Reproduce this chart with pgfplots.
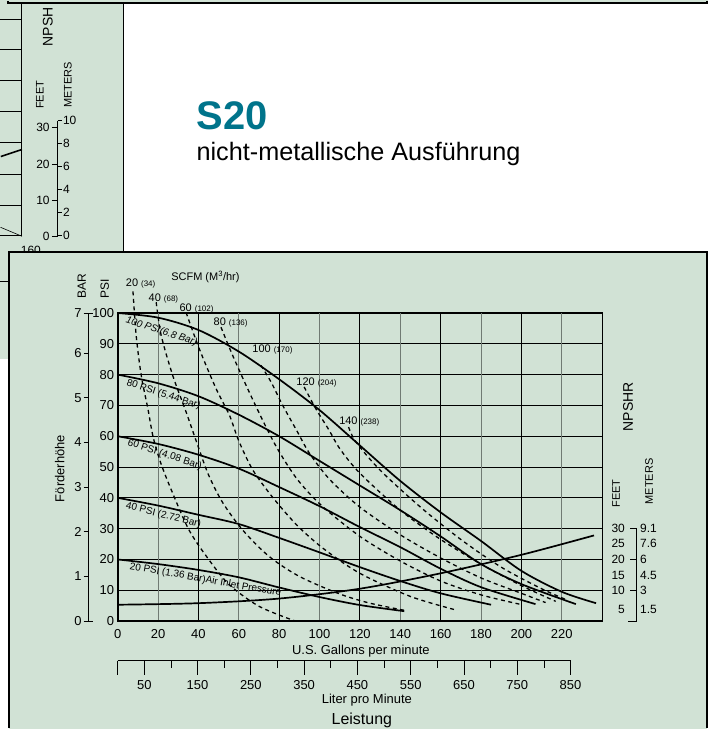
\documentclass[border=0pt]{standalone}
\usepackage{fontspec}
\setmainfont{Liberation Sans}
\usepackage{pgfplots}
\pgfplotsset{compat=1.18}
\definecolor{panel}{RGB}{209,226,213}
\definecolor{sblue}{RGB}{0,116,139}
\definecolor{gridgray}{RGB}{112,122,115}
\newcommand{\fs}[1]{\fontsize{#1}{#1}\selectfont}

\begin{document}
\begin{tikzpicture}[x=1pt,y=1pt]
\fill[white] (0,0) rectangle (711,731);

% previous chart, cut off at the top left
\fill[panel] (0,731) rectangle (124,478);
\fill[panel] (0,478) rectangle (9,371);
\draw[line width=1.6pt] (124,730) -- (124,478);
\draw[line width=0.9pt] (22,730) -- (22,495) -- (0.5,495);
\foreach \y in {712,681,650,619,588,556,525} \draw[line width=0.8pt] (0.5,\y) -- (22,\y);
\draw[line width=1.6pt] (0.8,574) -- (22,581);
\draw[line width=0.6pt] (0.5,503) -- (22,494);
\node[rotate=90, font=\fs{14}] at (48,704) {NPSH};
\node[rotate=90, font=\fs{11}] at (40,636) {FEET};
\node[rotate=90, font=\fs{11}] at (68,646) {METERS};
\draw[line width=0.7pt] (58,610) -- (58,494);
\foreach \y/\t in {603/30,566/20,530/10,494/0} {\draw[line width=0.7pt] (52,\y) -- (58,\y); \node[anchor=east, font=\fs{12}, inner sep=1pt] at (51,\y) {\t};}
\foreach \y/\t in {610/10,587/8,564/6,541/4,518/2,495/0} {\draw[line width=0.7pt] (58,\y) -- (62,\y); \node[anchor=west, font=\fs{12}, inner sep=1pt] at (62,\y) {\t};}
\node[font=\fs{12}] at (31,480) {160};
\draw[line width=0.7pt] (0.5,449) -- (8,449);
% top strip
\fill[panel] (8,728) rectangle (710,731);
\draw[line width=1.8pt] (8,730) -- (8,728) -- (709.5,728) -- (709.5,730);

% title
\node[anchor=base west, inner sep=0, font=\fs{40}\bfseries, text=sblue] at (197,601) {S20};
\node[anchor=base west, inner sep=0, font=\fs{25.3}] at (197,570) {nicht-metallische Ausführung};

% chart panel
\fill[panel] (9,478) rectangle (709,0);
\draw[line width=2pt] (9,0.5) -- (9,478) -- (709,478) -- (709,0.5);

\begin{axis}[
  at={(118pt,108pt)}, anchor=south west,
  width=486pt, height=309pt, scale only axis,
  xmin=0, xmax=240, ymin=0, ymax=100,
  xtick={0,20,...,220}, ytick={0,10,...,100},
  major tick length=0pt,
  grid=major, major grid style={black, line width=0.8pt},
  axis line style={black, line width=1.2pt},
  tick label style={font=\fs{13}},
  /pgf/number format/assume math mode=true,
  xticklabel style={yshift=-5pt},
  clip=false,
]
\pgfplotsinvokeforeach{20,60,100,140,180,220}{
  \draw[gridgray, line width=0.8pt] (axis cs:#1,0) -- (axis cs:#1,100);
}
\draw[line width=2.2pt] (axis cs:0,0) -- (axis cs:240,0);
\draw[line width=2pt] (axis cs:0,0) -- (axis cs:0,100);

% air inlet pressure (head) curves
\addplot[black, line width=1.7pt, smooth] coordinates {(0,100) (20,98.5) (40,94.5) (60,87.5) (80,78.5) (100,68.5) (120,57) (140,45.5) (160,35.3) (180,26) (200,16.3) (220,9.5) (237,5.8)};
\addplot[black, line width=1.7pt, smooth] coordinates {(0,80) (20,77.2) (40,73) (60,67) (80,60) (100,52) (120,44) (140,36) (160,27.5) (180,18.5) (200,12) (227,5.5)};
\addplot[black, line width=1.7pt, smooth] coordinates {(0,60) (20,57.5) (40,54) (60,49.5) (80,43.5) (100,37.3) (120,30.5) (140,24) (160,17) (180,11) (207,5.5)};
\addplot[black, line width=1.7pt, smooth] coordinates {(0,40) (20,37.5) (40,34.5) (60,31.5) (80,27) (100,22.3) (120,17.5) (140,13) (160,9) (185,5.3)};
\addplot[black, line width=1.7pt, smooth] coordinates {(0,20) (20,18.5) (40,16.6) (60,14.2) (80,10.9) (100,7.8) (120,5.2) (142,3.2)};

% NPSHR
\addplot[black, line width=1.7pt, smooth] coordinates {(0,5.3) (40,5.8) (80,7.3) (120,10.5) (160,15.5) (200,21.5) (236,27.8)};

% air consumption (SCFM) curves
\addplot[black, line width=1.3pt, dash pattern=on 4pt off 3.5pt, smooth] coordinates {(7.6,107) (9.2,92.6) (11.7,79.7) (15,68.9) (17.5,60) (21,52) (26,43.5) (35,30) (44,21) (55,12) (70,4.8) (88,0)};
\addplot[black, line width=1.3pt, dash pattern=on 4pt off 3.5pt, smooth] coordinates {(19.1,103.5) (21.6,92.7) (27.3,79.7) (33.9,67.9) (39.7,57) (45,47.5) (52,38.5) (62,29.5) (75,21) (90,14.5) (110,8.8) (125,5.8) (142,3.5)};
\addplot[black, line width=1.3pt, dash pattern=on 4pt off 3.5pt, smooth] coordinates {(33.9,100.2) (40.5,88.3) (48.8,75.4) (55.4,66.8) (60,58.5) (67,49) (77,40) (89,31) (102,23.5) (120,15.5) (145,8) (167,3.7)};
\addplot[black, line width=1.3pt, dash pattern=on 4pt off 3.5pt, smooth] coordinates {(51.2,95.4) (57,86.2) (65.2,74.3) (73.5,63) (80,55) (89,46) (101,37.5) (120,27.5) (140,19.5) (160,13) (180,8.5) (199,5.5)};
\addplot[black, line width=1.3pt, dash pattern=on 4pt off 3.5pt, smooth] coordinates {(71,83) (76,77.6) (81.8,70) (89,61.5) (95,54.5) (105,46) (120,37) (140,28) (160,20.5) (180,14) (200,9) (212,6)};
\addplot[black, line width=1.3pt, dash pattern=on 4pt off 3.5pt, smooth] coordinates {(92.4,76) (98.2,68.9) (104.8,61.9) (110,56) (120,48) (140,36) (160,26.5) (180,18.5) (200,11.5) (217,6.4)};
\addplot[black, line width=1.3pt, dash pattern=on 4pt off 3.5pt, smooth] coordinates {(114.4,63) (118,58.2) (130,49) (150,37) (170,26.5) (190,17.5) (210,10.5) (222,7)};

% curve labels
\node[rotate=-18, font=\fs{10}\itshape] at (axis cs:21.7,93.9) {100 PSI(6.8 Bar)};
\node[rotate=-18, font=\fs{10}] at (axis cs:22.7,73.5) {80 PSI (5.44 Bar)};
\node[rotate=-18, font=\fs{10}] at (axis cs:23.3,54) {60 PSI (4.08 Bar)};
\node[rotate=-14, font=\fs{10}] at (axis cs:22.7,34.3) {40 PSI (2.72 Bar)};
\node[rotate=-10, font=\fs{10}] at (axis cs:43.5,13.3) {20 PSI (1.36 Bar)Air Inlet Pressure};

\node[font=\fs{11}] at (axis cs:43.5,111.7) {SCFM (M\textsuperscript{3}/hr)};
\node[anchor=base west, inner sep=0, font=\fs{11}] at (axis cs:4,108.7) {20 {\fs{8}(34)}};
\node[anchor=base west, inner sep=0, font=\fs{11}] at (axis cs:15.3,103.9) {40 {\fs{8}(68)}};
\node[anchor=base west, inner sep=0, font=\fs{11}] at (axis cs:30.6,100.6) {60 {\fs{8}(102)}};
\node[anchor=base west, inner sep=0, font=\fs{11}] at (axis cs:47.5,96.1) {80 {\fs{8}(136)}};
\node[anchor=base west, inner sep=0, font=\fs{11}] at (axis cs:66.7,87.1) {100 {\fs{8}(170)}};
\node[anchor=base west, inner sep=0, font=\fs{11}] at (axis cs:88.5,76.4) {120 {\fs{8}(204)}};
\node[anchor=base west, inner sep=0, font=\fs{11}] at (axis cs:109.7,63.8) {140 {\fs{8}(238)}};
\end{axis}

% bar scale on the left
\node[rotate=90, font=\fs{12}] at (82,444) {BAR};
\node[rotate=90, font=\fs{12}] at (105,441) {PSI};
\draw[line width=0.7pt] (93,417) -- (89,417) -- (89,108) -- (93,108);
\foreach \y/\t in {108/0,152.8/1,197.6/2,242.5/3,287.3/4,332/5,376.9/6,417/7} {\draw[line width=0.7pt] (84,\y) -- (89,\y); \node[anchor=east, font=\fs{13}, inner sep=1pt] at (83,\y) {\t};}
\node[rotate=90, font=\fs{13}] at (60,261) {Förderhöhe};

% NPSHR scale on the right
\node[rotate=90, font=\fs{14}] at (630,323) {NPSHR};
\node[rotate=90, font=\fs{11}] at (618,236) {FEET};
\node[rotate=90, font=\fs{11}] at (651,248) {METERS};
\draw[line width=0.7pt] (632,200.7) -- (638,200.7) -- (638,108) -- (630,108);
\draw[line width=0.7pt] (632,169.8) -- (638,169.8);
\draw[line width=0.7pt] (632,138.9) -- (638,138.9);
\foreach \y/\f/\m in {201/30/9.1,186/25/7.6,170/20/6,154/15/4.5,139/10/3,120/5/1.5} {\node[anchor=east, font=\fs{12}, inner sep=0] at (627,\y) {\f}; \node[anchor=west, font=\fs{12}, inner sep=0] at (642,\y) {\m};}

% axis titles and litre scale
\node[font=\fs{13}] at (362,78) {U.S. Gallons per minute};
\draw[line width=0.7pt] (118,68.3) -- (572.3,68.3);
\draw[line width=0.7pt] (118,68.3) -- ++(0,-14);
\foreach \L in {50,150,...,850} {\draw[line width=0.7pt] ({118+0.53447*\L},68.3) -- ++(0,-14); \node[font=\fs{13}] at ({118+0.53447*\L},44) {\L};}
\foreach \L in {100,200,...,800} {\draw[line width=0.7pt] ({118+0.53447*\L},68.3) -- ++(0,-7);}
\node[font=\fs{13}] at (368,29) {Liter pro Minute};
\node[font=\fs{16}] at (363,8.5) {Leistung};
\end{tikzpicture}
\end{document}
